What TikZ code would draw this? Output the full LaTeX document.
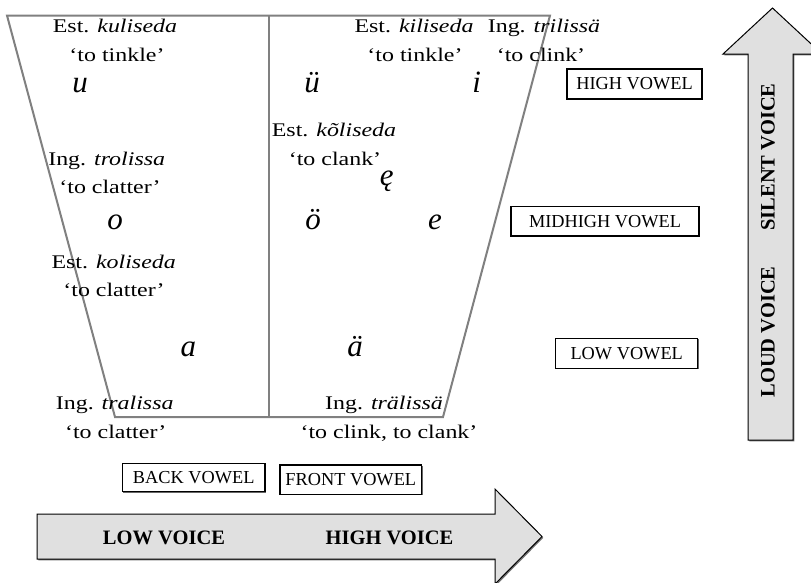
\documentclass[tikz,border=0pt]{standalone}
\usepackage{fontspec}
\setmainfont{Liberation Serif}
\usepackage{graphicx}
\usetikzlibrary{shadows}
\definecolor{arrowgray}{RGB}{224,224,224}
\definecolor{trapgray}{RGB}{128,128,128}
\newcommand\widetxt[1]{\scalebox{1.24}[1]{#1}}
\begin{document}
\begin{tikzpicture}[x=1pt,y=-1pt,
  trap/.style={draw=trapgray, line width=2pt, line join=miter},
  lbl/.style={anchor=base, inner sep=0pt, font=\fontsize{19.3}{22}\selectfont},
  vow/.style={anchor=base, inner sep=0pt, font=\fontsize{31}{35}\selectfont\itshape},
  vbox/.style={draw=black, line width=1.2pt, fill=white, inner sep=0pt,
    font=\fontsize{18.3}{22}\selectfont,
    drop shadow={shadow xshift=1.1pt, shadow yshift=-1.1pt, fill=black!60, opacity=1}},
  bigarrow/.style={draw=black, line width=1pt, fill=arrowgray,
    drop shadow={shadow xshift=1.3pt, shadow yshift=-1.3pt, fill=black!55, opacity=1}},
  arrlbl/.style={inner sep=0pt, font=\fontsize{20.5}{24}\selectfont\bfseries}]
\useasboundingbox (0,0) rectangle (811,582);
\clip (0,0) rectangle (811,582);
\fill[white] (0,0) rectangle (811,582);

% trapezoid
\coordinate (tl) at (7,15.5);
\coordinate (tr) at (550,15.5);
\coordinate (br) at (443,417);
\coordinate (bl) at (115,417);
\coordinate (dt) at (269,15.5);
\coordinate (db) at (269,417);
\draw[trap] (tl) -- (tr) -- (br) -- (bl) -- cycle;
\draw[trap] (dt) -- (db);

% labels
\node[lbl] (kul1) at (115,32.5) {\widetxt{Est. \textit{kuliseda}}};
\node[lbl] (kul2) at (117,61) {\widetxt{‘to tinkle’}};
\node[lbl] (kil1) at (414,32.5) {\widetxt{Est. \textit{kiliseda}}};
\node[lbl] (kil2) at (415,61) {\widetxt{‘to tinkle’}};
\node[lbl] (tri1) at (544,32.5) {\widetxt{Ing. \textit{trilissä}}};
\node[lbl] (tri2) at (541,61) {\widetxt{‘to clink’}};
\node[lbl] (kol1) at (334,136.7) {\widetxt{Est. \textit{kõliseda}}};
\node[lbl] (kol2) at (335,165) {\widetxt{‘to clank’}};
\node[lbl] (tro1) at (106.7,165) {\widetxt{Ing. \textit{trolissa}}};
\node[lbl] (tro2) at (110,193) {\widetxt{‘to clatter’}};
\node[lbl] (kos1) at (113.7,268.3) {\widetxt{Est. \textit{koliseda}}};
\node[lbl] (kos2) at (114,296.7) {\widetxt{‘to clatter’}};
\node[lbl] (tra1) at (114.7,409.3) {\widetxt{Ing. \textit{tralissa}}};
\node[lbl] (tra2) at (115.7,438.3) {\widetxt{‘to clatter’}};
\node[lbl] (trl1) at (384,409.3) {\widetxt{Ing. \textit{trälissä}}};
\node[lbl] (trl2) at (389,438.3) {\widetxt{‘to clink, to clank’}};

% vowels
\node[vow] (vu) at (80,92) {u};
\node[vow] (vuu) at (312,92) {ü};
\node[vow] (vi) at (476.7,92) {i};
\node[vow] (ve2) at (386.7,185) {ę};
\node[vow] (vo) at (115,229.5) {o};
\node[vow] (voo) at (313,229.5) {ö};
\node[vow] (ve) at (435,229.5) {e};
\node[vow] (va) at (188.3,356.7) {a};
\node[vow] (vaa) at (355,356.7) {ä};

% boxes
\node[vbox, minimum width=135pt, minimum height=30pt] (high) at (634.5,84) {HIGH VOWEL};
\node[vbox, minimum width=188pt, minimum height=29.3pt] (mid) at (605,221.4) {MIDHIGH VOWEL};
\node[vbox, minimum width=142pt, minimum height=30pt] (low) at (626.7,353.3) {LOW VOWEL};
\node[vbox, minimum width=142.7pt, minimum height=28.4pt] (back) at (193.7,477.5) {BACK VOWEL};
\node[vbox, minimum width=141.7pt, minimum height=29.3pt] (front) at (350.8,479.7) {FRONT VOWEL};

% vertical arrow
\draw[bigarrow] (748,440) -- (748,54) -- (723,54) -- (772.5,8) -- (822,54) -- (793,54) -- (793,440) -- cycle;
\node[arrlbl, rotate=90] (loud) at (768,332) {LOUD VOICE};
\node[arrlbl, rotate=90] (silent) at (768,157) {SILENT VOICE};

% horizontal arrow
\draw[bigarrow] (37,514) -- (495,514) -- (495,489) -- (542,536.5) -- (495,584) -- (495,559) -- (37,559) -- cycle;
\node[arrlbl, anchor=base] (lowv) at (164,544.3) {LOW VOICE};
\node[arrlbl, anchor=base] (highv) at (389.5,544.3) {HIGH VOICE};
\end{tikzpicture}
\end{document}
